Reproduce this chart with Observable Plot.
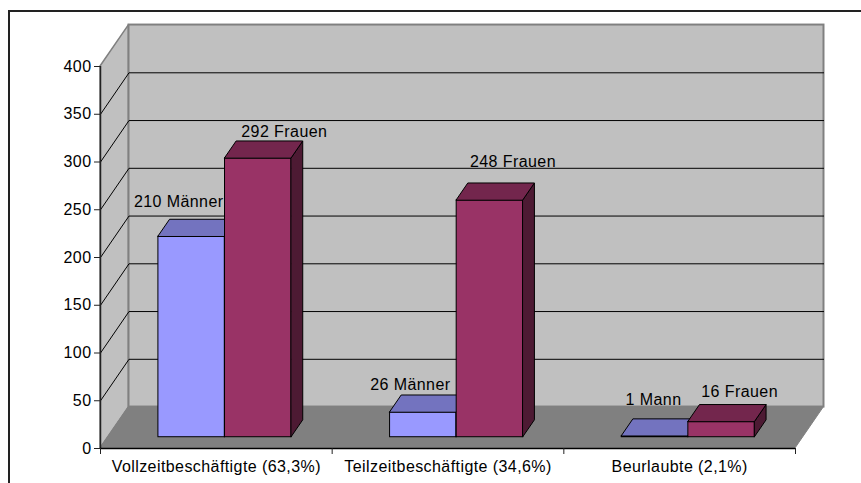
<!DOCTYPE html>
<html>
<head>
<meta charset="utf-8">
<script src="https://cdn.jsdelivr.net/npm/d3@7"></script>
<script src="https://cdn.jsdelivr.net/npm/@observablehq/plot@0.6"></script>
<style>
html,body{margin:0;padding:0;background:#fff;width:861px;height:483px;overflow:hidden}
#chart{position:absolute;left:0;top:0}
#frame{position:absolute;left:8px;top:10px;right:0;bottom:0;border-left:2px solid #222;border-top:2px solid #222}
svg text{letter-spacing:.42px}
</style>
</head>
<body>
<div id="chart"></div>
<div id="frame"></div>
<script>
// Data
const categories = ["Vollzeitbeschäftigte (63,3%)", "Teilzeitbeschäftigte (34,6%)", "Beurlaubte (2,1%)"];
const men = [210, 26, 1];
const women = [292, 248, 16];
const menLabels = ["210 Männer", "26 Männer", "1 Mann"];
const womenLabels = ["292 Frauen", "248 Frauen", "16 Frauen"];
const yTicks = [0, 50, 100, 150, 200, 250, 300, 350, 400];

// 3D projection, in data units
const depthX = 0.123, depthY = 43.4;
const barDepth0 = 0.272, barDepth1 = 0.68, barW = 0.2875, barShift = 0.004;
const px = (c, t) => c + t * depthX;
const py = (v, t) => v + t * depthY;

const series = [
  {values: men, offset: -barW, front: "#9999ff", top: "#7373bf", side: "#4d4d80"},
  {values: women, offset: 0, front: "#993366", top: "#73264d", side: "#4d1a33"}
];

const wall = "#c0c0c0", edge = "#808080";
const inner = yTicks.filter(v => v > 0 && v < 400);
const font = "Liberation Sans, Arial, sans-serif";

const barMarks = series.flatMap(s => {
  const faces = s.values.map((v, i) => {
    const x0 = i + 0.5 + barShift + s.offset, x1 = x0 + barW;
    return {i, v, x0, x1};
  });
  const sidePts = faces.flatMap(f => [barDepth0, barDepth1].map(t => ({
    z: f.i, x: px(f.x1, t), y1: py(0, t), y2: py(f.v, t)
  })));
  const topPts = faces.flatMap(f => [barDepth0, barDepth1].map(t => ({
    z: f.i, y: py(f.v, t), x1: px(f.x0, t), x2: px(f.x1, t)
  })));
  return [
    Plot.rect(faces, {x1: f => px(f.x0, barDepth0), x2: f => px(f.x1, barDepth0),
      y1: py(0, barDepth0), y2: f => py(f.v, barDepth0), fill: s.front, stroke: "#000", strokeWidth: 1}),
    Plot.areaY(sidePts, {x: "x", y1: "y1", y2: "y2", z: "z", fill: s.side, stroke: "#000", strokeWidth: 1}),
    Plot.areaX(topPts, {y: "y", x1: "x1", x2: "x2", z: "z", fill: s.top, stroke: "#000", strokeWidth: 1})
  ];
});

// Hand-placed label nudges (px) as in the source chart
const menNudge = [[-13, -35], [-13, -28], [-1.5, -36]];
const womenNudge = [[26, -26], [23, -39], [18, -30]];
const labelMarks = series.flatMap((s, k) => s.values.map((v, i) => {
  const text = k === 0 ? menLabels[i] : womenLabels[i];
  const n = k === 0 ? menNudge[i] : womenNudge[i];
  return Plot.text([text], {
    x: px(i + 0.5 + barShift + s.offset + barW / 2, barDepth0),
    y: py(v, barDepth0),
    text: d => d, dx: n[0], dy: n[1],
    fontSize: 16, fill: "#000", textAnchor: "middle"
  });
}));

const plot = Plot.plot({
  width: 861, height: 483,
  marginLeft: 100, marginRight: 66, marginTop: 66, marginBottom: 35,
  x: {domain: [0, 3], axis: null},
  y: {domain: [0, 400], axis: null},
  style: {background: "transparent", fontFamily: font, overflow: "visible"},
  marks: [
    // left wall
    Plot.areaY([0, 1], {x: t => px(0, t), y1: t => py(0, t), y2: t => py(400, t),
      fill: wall, stroke: edge, strokeWidth: 1.5}),
    // back wall
    Plot.rect([0], {x1: px(0, 1), x2: px(3, 1), y1: py(0, 1), y2: py(400, 1),
      fill: wall, stroke: edge, strokeWidth: 2}),
    // floor
    Plot.areaX([0, 1], {y: t => py(0, t), x1: t => px(0, t), x2: t => px(3, t),
      fill: edge, stroke: edge}),
    // gridlines
    Plot.link(inner, {x1: px(0, 0), y1: v => v, x2: px(0, 1), y2: v => py(v, 1), stroke: "#000", strokeWidth: 1}),
    Plot.link(inner, {x1: px(0, 1), y1: v => py(v, 1), x2: px(3, 1), y2: v => py(v, 1), stroke: "#000", strokeWidth: 1}),
    ...barMarks,
    ...labelMarks,
    // axes
    Plot.ruleX([0], {y1: 0, y2: 400, stroke: "#222", strokeWidth: 1.5}),
    Plot.ruleY([0], {x1: 0, x2: 3, stroke: "#000", strokeWidth: 1.5}),
    Plot.axisY({ticks: yTicks, tickSize: 6, tickPadding: 3, label: null, fontSize: 16, stroke: "#222"}),
    Plot.axisX({ticks: [0, 1, 2, 3], tickSize: 6, tickFormat: () => "", label: null, stroke: "#222"}),
    Plot.axisX({ticks: categories.map((c, i) => i + 0.5), tickSize: 0, tickPadding: 12,
      tickFormat: d => categories[d - 0.5], label: null, fontSize: 16})
  ]
});
document.getElementById("chart").appendChild(plot);
</script>
</body>
</html>
